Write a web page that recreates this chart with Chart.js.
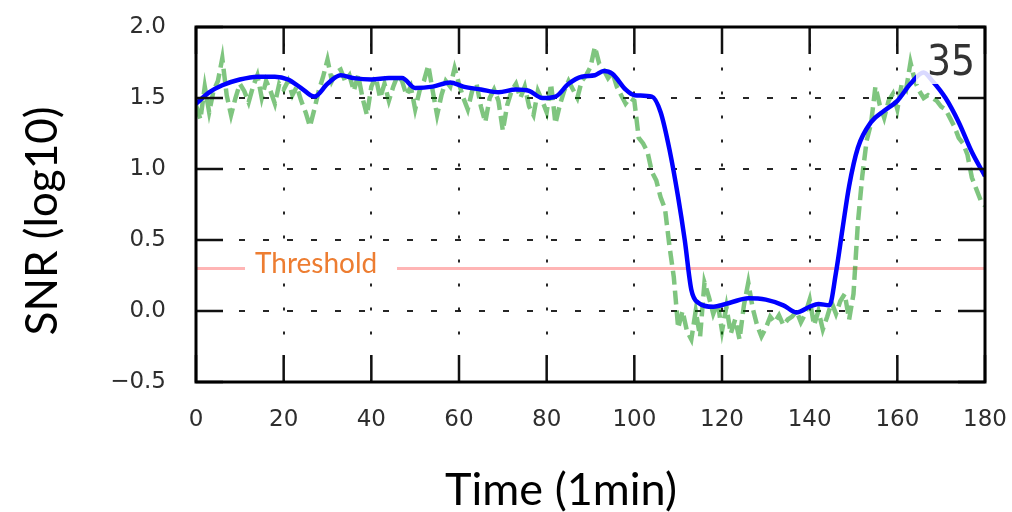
<!DOCTYPE html>
<html>
<head>
<meta charset="utf-8">
<script src="https://cdn.jsdelivr.net/npm/chart.js@4.4.1/dist/chart.umd.min.js"></script>
<style>
  html, body { margin: 0; padding: 0; background: #fff; }
  #wrap { width: 1012px; height: 512px; }
</style>
</head>
<body>
<div id="wrap"><canvas id="snr" width="1012" height="512"></canvas></div>
<script>
// raw SNR, one sample per minute (t = 0..180)
const rawSnr = [
  1.45, 1.35, 1.58, 1.40, 1.55, 1.62, 1.78, 1.52, 1.38, 1.50,
  1.60, 1.55, 1.47, 1.58, 1.66, 1.50, 1.62, 1.55, 1.46, 1.60,
  1.56, 1.62, 1.52, 1.58, 1.48, 1.40, 1.30, 1.42, 1.55, 1.65,
  1.77, 1.62, 1.68, 1.70, 1.62, 1.66, 1.55, 1.66, 1.50, 1.38,
  1.58, 1.65, 1.50, 1.60, 1.48, 1.58, 1.66, 1.62, 1.52, 1.58,
  1.42, 1.55, 1.62, 1.73, 1.55, 1.38, 1.52, 1.62, 1.58, 1.71,
  1.60, 1.50, 1.42, 1.55, 1.60, 1.44, 1.33, 1.50, 1.56, 1.48,
  1.27, 1.45, 1.55, 1.60, 1.50, 1.58, 1.44, 1.38, 1.55, 1.48,
  1.40, 1.60, 1.32, 1.45, 1.55, 1.62, 1.56, 1.50, 1.62, 1.66,
  1.72, 1.86, 1.74, 1.70, 1.64, 1.68, 1.58, 1.52, 1.46, 1.50,
  1.48, 1.22, 1.18, 1.12, 0.98, 0.92, 0.80, 0.72, 0.46, 0.24,
  -0.12, 0.00, -0.14, -0.20, 0.00, -0.18, 0.20, 0.10, -0.02, 0.06,
  -0.14, 0.03, -0.16, -0.06, -0.20, 0.04, 0.20, 0.02, -0.10, -0.18,
  -0.12, -0.04, -0.08, -0.03, -0.10, -0.06, -0.04, 0.00, -0.08, -0.02,
  0.08, -0.10, 0.00, -0.13, -0.04, 0.06, -0.02, 0.07, 0.12, -0.06,
  0.12, 0.62, 0.95, 1.20, 1.32, 1.58, 1.45, 1.36, 1.48, 1.53,
  1.42, 1.60, 1.56, 1.75, 1.62, 1.55, 1.50, 1.52, 1.50, 1.48,
  1.44, 1.42, 1.36, 1.30, 1.22, 1.18, 1.10, 0.94, 0.86, 0.78,
  0.74
];

// smoothed SNR
const smoothTimes = [
  0, 3, 6, 10, 14, 18, 21, 24, 27, 30,
  33, 36, 40, 44, 47, 50, 54, 58, 61, 65,
  69, 73, 76, 79, 82, 85, 88, 91, 93, 95,
  98, 100, 104, 106, 108, 110, 111.5, 113, 114.5, 118,
  122, 126, 130, 134, 137, 140, 142, 144.5, 146, 147.5,
  149, 151, 154, 157, 160, 163, 166, 168, 171, 174,
  177, 180
];
const smoothSnr = [
  1.46, 1.54, 1.59, 1.63, 1.65, 1.65, 1.63, 1.57, 1.51, 1.60,
  1.66, 1.64, 1.63, 1.64, 1.64, 1.57, 1.58, 1.61, 1.58, 1.56,
  1.54, 1.56, 1.55, 1.50, 1.51, 1.60, 1.65, 1.66, 1.69, 1.67,
  1.56, 1.52, 1.51, 1.40, 1.14, 0.80, 0.50, 0.15, 0.06, 0.03,
  0.06, 0.09, 0.08, 0.04, -0.01, 0.03, 0.05, 0.04, 0.27, 0.58,
  0.88, 1.15, 1.33, 1.41, 1.48, 1.60, 1.68, 1.62, 1.50, 1.33,
  1.12, 0.95
];

const threshold = 0.3;
const channelId = '35';
const xTicks = [0, 20, 40, 60, 80, 100, 120, 140, 160, 180];
const yTicks = [-0.5, 0.0, 0.5, 1.0, 1.5, 2.0];

const tickFont = { family: 'DejaVu Sans', size: 23 };

// frame, inward ticks, labels and axis titles
const decorations = {
  id: 'decorations',
  afterDatasetsDraw(chart) {
    const { ctx, chartArea: a, scales } = chart;
    ctx.save();

    // "Threshold" label sits on the line
    const ty = scales.y.getPixelForValue(threshold);
    ctx.fillStyle = '#fff';
    ctx.fillRect(245, ty - 9, 152, 18);
    ctx.fillStyle = '#ED7D31';
    ctx.font = '28px Lato';
    ctx.textBaseline = 'middle';
    ctx.textAlign = 'left';
    ctx.fillText('Threshold', 255, ty - 4);

    // channel number in the corner, over a light box
    ctx.fillStyle = 'rgba(255,255,255,0.85)';
    ctx.fillRect(916, 30, 66, 54);
    ctx.fillStyle = '#333';
    ctx.font = '42px "Liberation Sans Narrow", "DejaVu Sans Condensed", sans-serif';
    ctx.textAlign = 'right';
    ctx.textBaseline = 'alphabetic';
    ctx.fillText(channelId, 975, 75);

    // inward tick marks on all four sides
    ctx.strokeStyle = '#111';
    ctx.lineWidth = 2.5;
    const len = 27;
    ctx.beginPath();
    xTicks.forEach(v => {
      const x = scales.x.getPixelForValue(v);
      ctx.moveTo(x, a.bottom); ctx.lineTo(x, a.bottom - len);
      ctx.moveTo(x, a.top); ctx.lineTo(x, a.top + len);
    });
    yTicks.forEach(v => {
      const y = scales.y.getPixelForValue(v);
      ctx.moveTo(a.left, y); ctx.lineTo(a.left + len, y);
      ctx.moveTo(a.right, y); ctx.lineTo(a.right - len, y);
    });
    ctx.stroke();

    // plot frame
    ctx.lineWidth = 3;
    ctx.strokeStyle = '#000';
    ctx.strokeRect(a.left, a.top, a.right - a.left, a.bottom - a.top);

    // axis titles
    ctx.fillStyle = '#000';
    ctx.textAlign = 'center';
    ctx.textBaseline = 'middle';
    ctx.font = '45px Lato';
    ctx.fillText('Time (1min)', 561, 490);
    ctx.font = '44px Lato';
    ctx.translate(43, 221);
    ctx.rotate(-Math.PI / 2);
    ctx.fillText('SNR (log10)', 0, 0);

    ctx.restore();
  }
};

new Chart(document.getElementById('snr'), {
  type: 'line',
  data: {
    datasets: [
      {
        label: 'smoothed',
        data: smoothTimes.map((t, i) => ({ x: t, y: smoothSnr[i] })),
        borderColor: '#0000ff',
        borderWidth: 4.5,
        pointRadius: 0,
        cubicInterpolationMode: 'monotone',
        order: 1
      },
      {
        label: 'raw',
        data: rawSnr.map((v, i) => ({ x: i, y: v })),
        borderColor: 'rgba(0,140,0,0.5)',
        borderWidth: 4.5,
        borderDash: [14, 6],
        pointRadius: 0,
        tension: 0,
        order: 2
      },
      {
        label: 'threshold',
        data: [{ x: xTicks[0], y: threshold }, { x: xTicks[xTicks.length - 1], y: threshold }],
        borderColor: 'rgba(255,90,90,0.45)',
        borderWidth: 3,
        pointRadius: 0,
        order: 3
      }
    ]
  },
  options: {
    responsive: false,
    animation: false,
    devicePixelRatio: 1,
    layout: { padding: { top: 27, right: 27, left: 0, bottom: 0 } },
    plugins: {
      legend: { display: false },
      tooltip: { enabled: false }
    },
    scales: {
      x: {
        type: 'linear',
        min: 0,
        max: 180,
        // fixed band height; end labels may overhang the plot edge
        afterFit: s => { s.height = 130; s.paddingLeft = 0; s.paddingRight = 0; },
        afterBuildTicks: s => { s.ticks = xTicks.map(v => ({ value: v })); },
        ticks: {
          font: tickFont,
          color: '#2e2e2e',
          padding: 24,
          maxRotation: 0,
          autoSkip: false,
          callback: v => String(v)
        },
        grid: { color: 'rgba(0,0,0,0.85)', lineWidth: 2, drawTicks: false },
        border: { display: false, dash: [3, 21], dashOffset: 7.5 }
      },
      y: {
        min: -0.5,
        max: 2.0,
        afterFit: s => { s.width = 196; s.paddingTop = 0; s.paddingBottom = 0; },
        afterBuildTicks: s => { s.ticks = yTicks.map(v => ({ value: v })); },
        ticks: {
          font: tickFont,
          color: '#2e2e2e',
          padding: 30,
          autoSkip: false,
          callback: v => (v < 0 ? '\u2212' + Math.abs(v).toFixed(1) : v.toFixed(1))
        },
        grid: { color: 'rgba(0,0,0,0.85)', lineWidth: 2, drawTicks: false },
        border: { display: false, dash: [6, 18], dashOffset: 5 }
      }
    }
  },
  plugins: [decorations]
});
</script>
</body>
</html>
